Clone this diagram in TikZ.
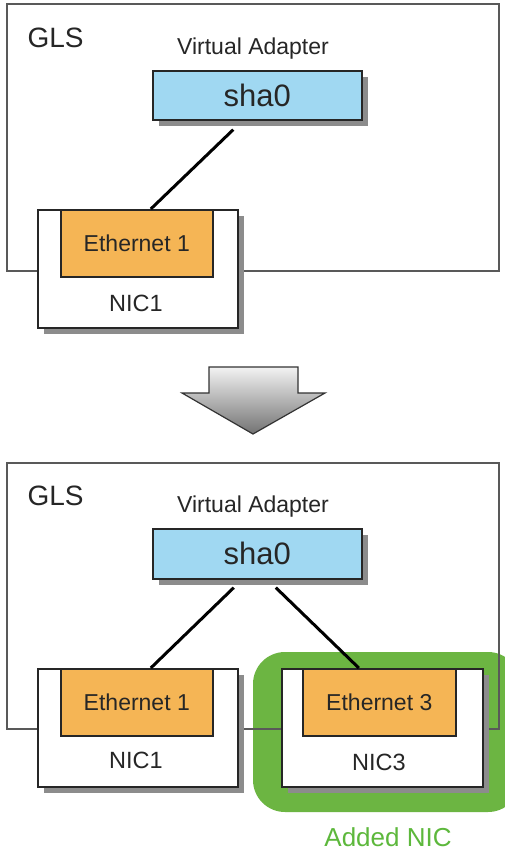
\documentclass[tikz,border=0pt]{standalone}
\usepackage{fontspec}
\setmainfont{Liberation Sans}
\usetikzlibrary{shadows}
\definecolor{vblue}{HTML}{A0D8F2}
\definecolor{ethor}{HTML}{F5B555}
\definecolor{addgreen}{HTML}{6CB542}
\definecolor{addtext}{HTML}{5DB83C}
\begin{document}
\begin{tikzpicture}[x=1pt,y=-1pt,
  glsbox/.style={draw=black!65,line width=1.3pt},
  shbox/.style={draw=black!85,line width=1.6pt,rectangle,inner sep=0pt,anchor=north west,
     drop shadow={shadow xshift=6pt,shadow yshift=-6pt,fill=black!45,opacity=1}},
  vabox/.style={shbox,fill=vblue},
  nicbox/.style={shbox,fill=white},
  ethbox/.style={draw=black!85,line width=1.6pt,fill=ethor,rectangle,inner sep=0pt,anchor=north west},
  conn/.style={draw=black,line width=3pt},
  glstxt/.style={font=\fontsize{28}{30}\selectfont,anchor=west,text=black!85},
  vatxt/.style={font=\fontsize{23}{26}\selectfont,text=black!85},
  shatxt/.style={font=\fontsize{31}{33}\selectfont,text=black!85},
  ethtxt/.style={font=\fontsize{23}{26}\selectfont,text=black!85},
  nictxt/.style={font=\fontsize{23.5}{26}\selectfont,text=black!85}
]
\useasboundingbox (0,0) rectangle (504,851);
\fill[white] (0,0) rectangle (504,851);

% ---------- top panel ----------
\draw[glsbox,fill=white] (7,4) rectangle (499,271);
\node[glstxt] (glsA) at (24,38) {GLS};
\node[vatxt] (vaA) at (253,49) {Virtual Adapter};
\node[vabox,minimum width=209pt,minimum height=49pt] (shaA) at (152,70) {};
\node[shatxt] (shaAt) at (shaA.center) {sha0};
\node[nicbox,minimum width=200pt,minimum height=118pt] (nicA) at (37,209) {};
\node[ethbox,minimum width=152pt,minimum height=67pt] (ethA) at (60,209) {};
\node[ethtxt] (ethAt) at (ethA.center) {Ethernet 1};
\node[nictxt] (nicAt) at (136,303) {NIC1};
\draw[conn] ([xshift=-24pt,yshift=-9pt]shaA.south) -- ([xshift=14pt]ethA.north);

% ---------- arrow ----------
\draw[draw=black!80,line width=1.2pt,top color=black!5,bottom color=black!55]
  (209,367) -- (298,367) -- (298,393) -- (325,393) -- (253,434) -- (182,393) -- (209,393) -- cycle;

% ---------- bottom panel ----------
\fill[white] (7,463) rectangle (499,729);
\fill[addgreen,rounded corners=32pt] (253,652) rectangle (520,812);
\draw[glsbox] (7,463) rectangle (499,729);
\node[glstxt] (glsB) at (24,496) {GLS};
\node[vatxt] (vaB) at (253,507) {Virtual Adapter};
\node[vabox,minimum width=209pt,minimum height=50pt] (shaB) at (152,528) {};
\node[shatxt] (shaBt) at (shaB.center) {sha0};
\node[nicbox,minimum width=200pt,minimum height=118pt] (nicB) at (37,668) {};
\node[ethbox,minimum width=152pt,minimum height=67pt] (ethB) at (60,668) {};
\node[ethtxt] (ethBt) at (ethB.center) {Ethernet 1};
\node[nictxt] (nicBt) at (136,760) {NIC1};
\node[nicbox,minimum width=201pt,minimum height=118pt] (nicC) at (281,668) {};
\node[ethbox,minimum width=153pt,minimum height=67pt] (ethC) at (302,668) {};
\node[ethtxt] (ethCt) at (ethC.center) {Ethernet 3};
\node[nictxt] (nicCt) at (379,762) {NIC3};
\draw[conn] ([xshift=-23.5pt,yshift=-8pt]shaB.south) -- ([xshift=14pt]ethB.north);
\draw[conn] ([xshift=18.5pt,yshift=-8pt]shaB.south) -- ([xshift=-20.5pt]ethC.north);
\node[font=\fontsize{26}{28}\selectfont,text=addtext,inner sep=0pt,anchor=base] (added) at (388,846) {Added NIC};
\end{tikzpicture}
\end{document}
